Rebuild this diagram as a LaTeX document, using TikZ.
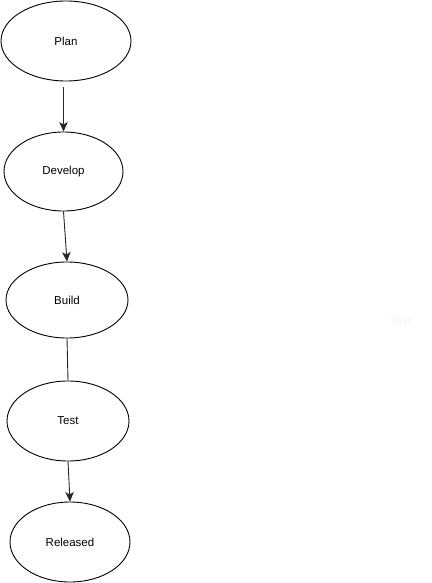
\documentclass[tikz,border=0pt]{standalone}
\usepackage{fontspec}
\setmainfont{Liberation Sans}
\usetikzlibrary{shapes.geometric,arrows.meta}
\begin{document}
\begin{tikzpicture}[x=1pt,y=-1pt,
  stage/.style={ellipse,draw=black,line width=0.9pt,inner sep=0pt,font=\fontsize{11.5}{13}\selectfont},
  flow/.style={draw=black!85,line width=0.9pt,-{Stealth[length=9.5pt,width=8.5pt,inset=2.5pt]}},
  plainflow/.style={draw=black!85,line width=0.9pt}]
\useasboundingbox (0,0) rectangle (431,583);
\node[stage,minimum width=130pt,minimum height=80pt] (plan) at (66,41) {Plan};
\node[stage,minimum width=119pt,minimum height=79pt] (develop) at (63.5,171.5) {Develop};
\node[stage,minimum width=122pt,minimum height=76pt] (build) at (67,300) {Build};
\node[stage,minimum width=122pt,minimum height=80pt] (test) at (68,421) {Test};
\node[stage,minimum width=120pt,minimum height=80pt] (released) at (70,542) {Released};
\node[font=\fontsize{11.5}{13}\selectfont,text=black!6] (txt) at (401,322) {Text};
\draw[flow,shorten <=6pt] (develop.north |- plan.south) -- (develop.north);
\draw[flow] (develop.south) -- (build.north);
\draw[plainflow] (build.south) -- (test.north);
\draw[flow] (test.south) -- (released.north);
\end{tikzpicture}
\end{document}
